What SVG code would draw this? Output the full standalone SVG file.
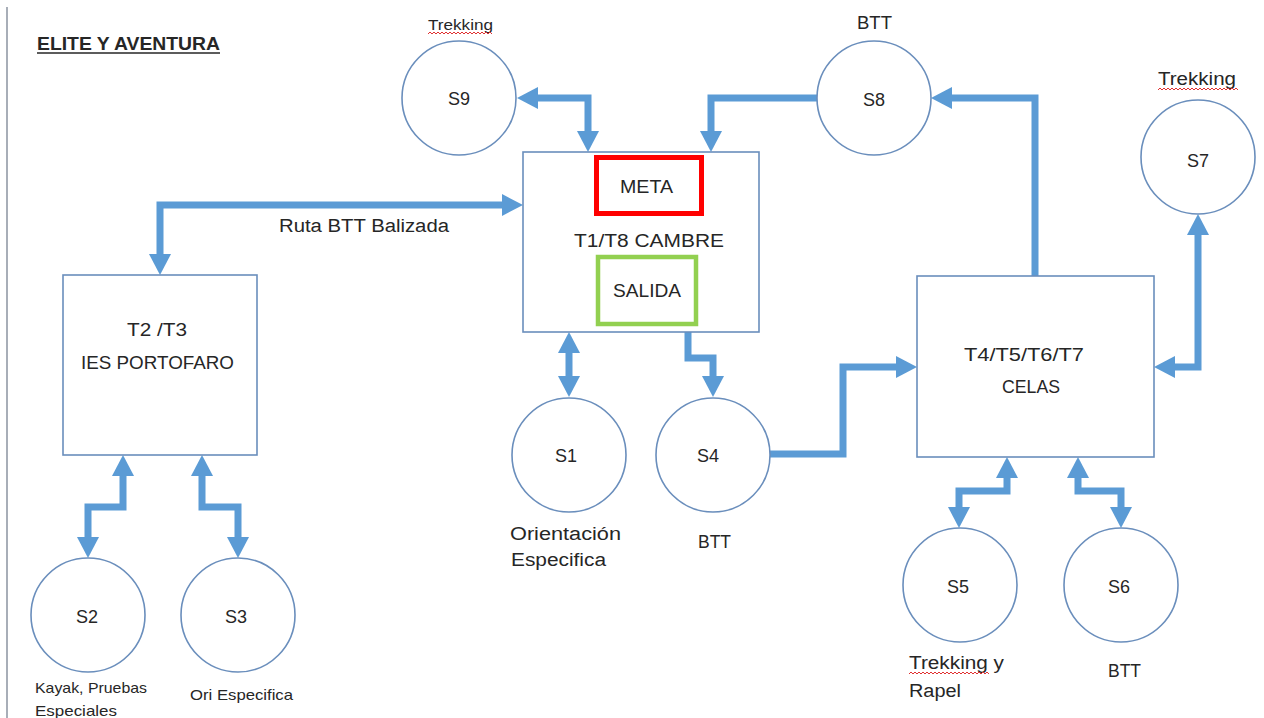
<svg xmlns="http://www.w3.org/2000/svg" width="1264" height="718" viewBox="0 0 1264 718">
<style>
.bg{fill:#ffffff}
.node{fill:#ffffff;stroke:#6A8EBC;stroke-width:1.6}
.t{font-family:"Liberation Sans",Arial,sans-serif;font-size:18px;fill:#262626}
.s{font-size:15px}
.c{text-anchor:middle}
.conn{fill:none;stroke:#5B9BD5;stroke-width:7;stroke-linejoin:miter}
.sq{fill:none;stroke:#E03030;stroke-width:1}
</style>
<defs>
<marker id="ah" markerUnits="userSpaceOnUse" markerWidth="21" markerHeight="22" refX="0" refY="11" orient="auto-start-reverse" overflow="visible">
<path d="M0,0 L21,11 L0,22 Z" fill="#5B9BD5"/>
</marker>
</defs>
<rect class="bg" x="0" y="0" width="1264" height="718"/>
<line x1="7" y1="7" x2="7" y2="718" stroke="#A8AEB8" stroke-width="2"/>
<g id="title">
<text class="t" x="37" y="50" font-weight="bold" textLength="183" lengthAdjust="spacingAndGlyphs">ELITE Y AVENTURA</text>
<line x1="37" y1="53" x2="220" y2="53" stroke="#262626" stroke-width="1.6"/>
</g>
<g id="connectors">
<path class="conn" d="M160,254 L160,205 L502,205" marker-start="url(#ah)" marker-end="url(#ah)"/>
<path class="conn" d="M538,98 L588,98 L588,131" marker-start="url(#ah)" marker-end="url(#ah)"/>
<path class="conn" d="M817,98 L711,98 L711,131" marker-end="url(#ah)"/>
<path class="conn" d="M1035,276 L1035,98 L952,98" marker-end="url(#ah)"/>
<path class="conn" d="M1198,235 L1198,367 L1175,367" marker-start="url(#ah)" marker-end="url(#ah)"/>
<path class="conn" d="M770,454 L843,454 L843,367 L896,367" marker-end="url(#ah)"/>
<path class="conn" d="M569,353 L569,376" marker-start="url(#ah)" marker-end="url(#ah)"/>
<path class="conn" d="M688,332 L688,358 L713,358 L713,376" marker-end="url(#ah)"/>
<path class="conn" d="M123,476 L123,507 L88,507 L88,537" marker-start="url(#ah)" marker-end="url(#ah)"/>
<path class="conn" d="M202,476 L202,507 L238,507 L238,537" marker-start="url(#ah)" marker-end="url(#ah)"/>
<path class="conn" d="M1007,478 L1007,491 L959,491 L959,507" marker-start="url(#ah)" marker-end="url(#ah)"/>
<path class="conn" d="M1078,478 L1078,491 L1121,491 L1121,507" marker-start="url(#ah)" marker-end="url(#ah)"/>
<text class="t" x="279" y="232" textLength="170" lengthAdjust="spacingAndGlyphs">Ruta BTT Balizada</text>
</g>
<g id="cambre">
<rect class="node" x="523" y="152" width="236" height="180"/>
<rect x="596.5" y="157.5" width="105" height="56" fill="none" stroke="#FF0000" stroke-width="5"/>
<rect x="598" y="257" width="98" height="67" fill="none" stroke="#92D050" stroke-width="4.5"/>
<text class="t" x="620" y="193" textLength="53" lengthAdjust="spacingAndGlyphs">META</text>
<text class="t" x="574" y="247" textLength="150" lengthAdjust="spacingAndGlyphs">T1/T8  CAMBRE</text>
<text class="t" x="613" y="297" textLength="68" lengthAdjust="spacingAndGlyphs">SALIDA</text>
</g>
<g id="portofaro">
<rect class="node" x="63" y="275" width="194" height="180"/>
<text class="t" x="127" y="336" textLength="60" lengthAdjust="spacingAndGlyphs">T2 /T3</text>
<text class="t" x="81" y="369" textLength="153" lengthAdjust="spacingAndGlyphs">IES PORTOFARO</text>
</g>
<g id="celas">
<rect class="node" x="917" y="276" width="237" height="181"/>
<text class="t" x="964" y="361" textLength="120" lengthAdjust="spacingAndGlyphs">T4/T5/T6/T7</text>
<text class="t" x="1002" y="393" textLength="58" lengthAdjust="spacingAndGlyphs">CELAS</text>
</g>
<g id="s9">
<circle class="node" cx="459" cy="98" r="57"/>
<text class="t c" x="459" y="105">S9</text>
<text class="t s" x="428" y="30" textLength="65" lengthAdjust="spacingAndGlyphs">Trekking</text>
<path class="sq" d="M428,34 l2,-2 l2,2 l2,-2 l2,2 l2,-2 l2,2 l2,-2 l2,2 l2,-2 l2,2 l2,-2 l2,2 l2,-2 l2,2 l2,-2 l2,2 l2,-2 l2,2 l2,-2 l2,2 l2,-2 l2,2 l2,-2 l2,2 l2,-2 l2,2 l2,-2 l2,2 l2,-2 l2,2 l2,-2 l2,2"/>
</g>
<g id="s8">
<circle class="node" cx="874" cy="98" r="57"/>
<text class="t c" x="874" y="106">S8</text>
<text class="t" x="857" y="29" textLength="35" lengthAdjust="spacingAndGlyphs">BTT</text>
</g>
<g id="s7">
<circle class="node" cx="1198" cy="157" r="57"/>
<text class="t c" x="1198" y="167">S7</text>
<text class="t" x="1158" y="85" textLength="78" lengthAdjust="spacingAndGlyphs">Trekking</text>
<path class="sq" d="M1158,90 l2,-2 l2,2 l2,-2 l2,2 l2,-2 l2,2 l2,-2 l2,2 l2,-2 l2,2 l2,-2 l2,2 l2,-2 l2,2 l2,-2 l2,2 l2,-2 l2,2 l2,-2 l2,2 l2,-2 l2,2 l2,-2 l2,2 l2,-2 l2,2 l2,-2 l2,2 l2,-2 l2,2 l2,-2 l2,2 l2,-2 l2,2 l2,-2 l2,2 l2,-2 l2,2 l2,-2 l2,2"/>
</g>
<g id="s1">
<circle class="node" cx="569" cy="455" r="57"/>
<text class="t c" x="566" y="462">S1</text>
<text class="t" x="510" y="540" textLength="111" lengthAdjust="spacingAndGlyphs">Orientación</text>
<text class="t" x="511" y="566" textLength="95" lengthAdjust="spacingAndGlyphs">Especifica</text>
</g>
<g id="s4">
<circle class="node" cx="713" cy="455" r="57"/>
<text class="t c" x="708" y="462">S4</text>
<text class="t" x="698" y="548" textLength="33" lengthAdjust="spacingAndGlyphs">BTT</text>
</g>
<g id="s2">
<circle class="node" cx="88" cy="615" r="57"/>
<text class="t c" x="87" y="623">S2</text>
<text class="t s" x="35" y="693" textLength="112" lengthAdjust="spacingAndGlyphs">Kayak, Pruebas</text>
<text class="t s" x="35" y="716" textLength="82" lengthAdjust="spacingAndGlyphs">Especiales</text>
</g>
<g id="s3">
<circle class="node" cx="238" cy="615" r="57"/>
<text class="t c" x="236" y="623">S3</text>
<text class="t s" x="190" y="700" textLength="103" lengthAdjust="spacingAndGlyphs">Ori Especifica</text>
</g>
<g id="s5">
<circle class="node" cx="960" cy="585" r="57"/>
<text class="t c" x="958" y="593">S5</text>
<text class="t" x="909" y="669" textLength="95" lengthAdjust="spacingAndGlyphs">Trekking y</text>
<path class="sq" d="M909,674 l2,-2 l2,2 l2,-2 l2,2 l2,-2 l2,2 l2,-2 l2,2 l2,-2 l2,2 l2,-2 l2,2 l2,-2 l2,2 l2,-2 l2,2 l2,-2 l2,2 l2,-2 l2,2 l2,-2 l2,2 l2,-2 l2,2 l2,-2 l2,2 l2,-2 l2,2 l2,-2 l2,2 l2,-2 l2,2 l2,-2 l2,2 l2,-2 l2,2 l2,-2 l2,2 l2,-2 l2,2"/>
<text class="t" x="909" y="697" textLength="52" lengthAdjust="spacingAndGlyphs">Rapel</text>
</g>
<g id="s6">
<circle class="node" cx="1121" cy="585" r="57"/>
<text class="t c" x="1119" y="593">S6</text>
<text class="t" x="1108" y="677" textLength="33" lengthAdjust="spacingAndGlyphs">BTT</text>
</g>
</svg>
